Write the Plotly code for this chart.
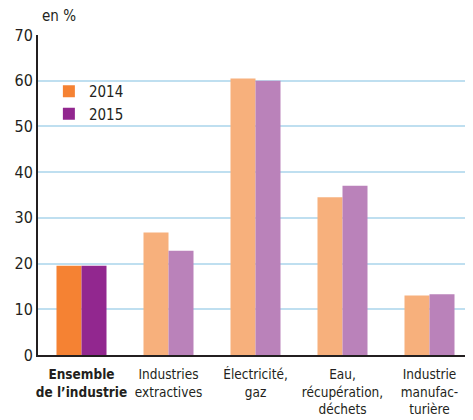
import plotly.graph_objects as go

categories = ["<b>Ensemble<br>de l’industrie</b>", "Industries<br>extractives",
              "Électricité,<br>gaz", "Eau,<br>récupération,<br>déchets",
              "Industrie<br>manufac-<br>turière"]
v2014 = [19.5, 26.8, 60.5, 34.5, 13.0]
v2015 = [19.5, 22.8, 60.0, 37.0, 13.3]
tickvals = [0, 10, 20, 30, 40, 50, 60, 70]

c2014 = ["#F58233"] + ["#F7B07C"] * 4
c2015 = ["#92278F"] + ["#BA82BA"] * 4

font = "DejaVu Sans Condensed, Liberation Sans Narrow, Liberation Sans, sans-serif"

fig = go.Figure()
fig.add_trace(go.Bar(x=categories, y=v2014, name="2014", marker=dict(color=c2014, line_width=0)))
fig.add_trace(go.Bar(x=categories, y=v2015, name="2015", marker=dict(color=c2015, line_width=0)))

fig.update_layout(
    width=465, height=412,
    margin=dict(l=30, r=0, t=27, b=65, autoexpand=False),
    paper_bgcolor="white", plot_bgcolor="white",
    barmode="group", bargap=0.425, bargroupgap=0,
    font=dict(family=font, size=14, color="#231F20"),
    legend=dict(x=0.025, y=0.875, xanchor="left", yanchor="top",
                font=dict(size=15), itemwidth=30, tracegroupgap=0,
                bgcolor="rgba(0,0,0,0)"),
    xaxis=dict(showline=True, linecolor="#231F20", linewidth=2, automargin=False,
               ticks="", tickfont=dict(size=13.5), ticklabelstandoff=6,
               range=[-0.5, 4.5]),
    yaxis=dict(range=[0, 70], tickvals=tickvals, showgrid=True, automargin=False,
               gridcolor="#BFDFF0", gridwidth=1.5, showline=True,
               linecolor="#231F20", linewidth=2, ticks="",
               tickfont=dict(size=16), zeroline=False),
    annotations=[dict(text="en %", xref="paper", yref="paper", x=0.005, y=1.0,
                      yshift=8, xanchor="left", yanchor="bottom",
                      showarrow=False, font=dict(size=15))],
)
fig.write_html("out.html")
